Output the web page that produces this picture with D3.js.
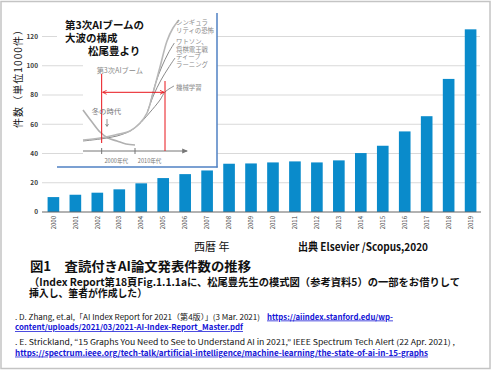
<!DOCTYPE html>
<html>
<head>
<meta charset="utf-8">
<script src="https://cdn.jsdelivr.net/npm/d3@7"></script>
<style>
  body { margin:0; background:#fff; }
  svg { display:block; }
  text { font-family: "Noto Sans CJK JP", "Liberation Sans", sans-serif; }
</style>
</head>
<body>
<svg class="chart"></svg>
<script>
// bar data (thousands of papers)
var years = ["2000","2001","2002","2003","2004","2005","2006","2007","2008","2009",
             "2010","2011","2012","2013","2014","2015","2016","2017","2018","2019"];
var papers = [10.2, 11.8, 13.2, 15.5, 19.6, 23.2, 25.9, 28.4, 33.0, 33.2,
              33.9, 34.6, 33.9, 35.3, 40.3, 45.3, 55.1, 65.5, 91.0, 124.9];
var yTicks = [0, 20, 40, 60, 80, 100, 120];

// inset (Matsuo's diagram): [year, level]
var singularity = [[1994.4,11],[1999.5,13],[2004,16],[2008.5,20],[2011.5,28],[2013.6,38],
                   [2015.4,58],[2017.5,84],[2019.6,110],[2021.4,123],[2023.2,131]];
var watson = [[2014.6,48],[2016.2,68],[2018,84],[2020,98],[2021.8,108]];
var deepLearning = [[2013.8,40],[2015.6,56],[2017.8,71],[2020,83],[2022,93]];
var machineLearning = [[1994.4,10],[1999.5,12],[2004.6,15],[2008.5,20],[2011,26],
                       [2014.3,38],[2017.5,51],[2019,59],[2021.7,65]];
var winter = [[1994.4,41],[1997.1,29],[1999.5,19],[2001.9,13],[2004.6,10],[2007.3,7],[2010,6]];
var insetLabels = [
  {t:["シンギュラ", "リティの恐怖"], yr:2022.3, lv:126},
  {t:["ワトソン、", "将棋電王戦"], yr:2022.3, lv:107},
  {t:["ディープ", "ラーニング"], yr:2022.3, lv:92},
  {t:["機械学習"], yr:2022.3, lv:61}
];
var decades = [{yr:2000, t:"2000年代"}, {yr:2010, t:"2010年代"}];
var boomSpan = [2000, 2019];

var svg = d3.select(".chart").attr("width", 492).attr("height", 370);

// slide frame
svg.append("rect")
  .attr("x", 1).attr("y", 1.5).attr("width", 489).attr("height", 367)
  .attr("fill", "#fff").attr("stroke", "#c4c4c4").attr("stroke-width", 1.5);

var x = d3.scaleBand().domain(years).range([41, 483])
  .paddingInner(0.47).paddingOuter(0.3);
var y = d3.scaleLinear().domain([0, 120]).range([212, 36.5]);

// gridlines
svg.append("g").selectAll("line").data(yTicks.slice(1)).enter().append("line")
  .attr("x1", 42).attr("x2", 480)
  .attr("y1", function(d){ return y(d); }).attr("y2", function(d){ return y(d); })
  .attr("stroke", "#d9d9d9").attr("stroke-width", 1);

// y tick labels
svg.append("g").selectAll("text").data(yTicks).enter().append("text")
  .attr("x", 38).attr("y", function(d){ return y(d); })
  .attr("dy", "0.35em").attr("text-anchor", "end")
  .attr("font-family", "Liberation Sans").attr("font-weight", "bold")
  .attr("font-size", "6.5px").attr("fill", "#404040")
  .text(function(d){ return d; });

// bars
svg.append("g").selectAll("rect").data(papers).enter().append("rect")
  .attr("x", function(d,i){ return x(years[i]); })
  .attr("width", x.bandwidth())
  .attr("y", function(d){ return y(d); })
  .attr("height", function(d){ return y(0) - y(d); })
  .attr("fill", "#0a8bcb");

// baseline
svg.append("line")
  .attr("x1", 42).attr("x2", 481).attr("y1", y(0)).attr("y2", y(0))
  .attr("stroke", "#666").attr("stroke-width", 1.2);

// year labels
svg.append("g").selectAll("text").data(years).enter().append("text")
  .attr("transform", function(d){
    return "translate(" + (x(d) + x.bandwidth()/2 + 2.2) + ",216) rotate(-90)";
  })
  .attr("text-anchor", "end")
  .attr("font-family", "Liberation Sans").attr("font-size", "6px").attr("fill", "#404040")
  .text(function(d){ return d; });

// axis titles
svg.append("text")
  .attr("transform", "translate(21.8,128) rotate(-90)")
  .attr("font-size", "10px").attr("fill", "#111")
  .attr("textLength", 103).attr("lengthAdjust", "spacing")
  .text("件数（単位1000件）");

svg.append("text")
  .attr("x", 194).attr("y", 251)
  .attr("font-size", "11px").attr("fill", "#111")
  .text("西暦 年");

svg.append("text")
  .attr("x", 298).attr("y", 250.5)
  .attr("font-size", "11px").attr("font-weight", "bold").attr("fill", "#111")
  .attr("textLength", 130).attr("lengthAdjust", "spacingAndGlyphs")
  .text("出典 Elsevier /Scopus,2020");

// ---- inset ----
var inset = svg.append("g");
inset.append("rect").attr("x", 83).attr("y", 13).attr("width", 134).attr("height", 154).attr("fill", "#fff");
inset.append("rect").attr("x", 57).attr("y", 13).attr("width", 95).attr("height", 42).attr("fill", "#fff");
inset.append("line").attr("x1", 217).attr("x2", 217).attr("y1", 13).attr("y2", 167.5)
  .attr("stroke", "#4f81c3").attr("stroke-width", 1.5);
inset.append("line").attr("x1", 57).attr("x2", 217.7).attr("y1", 167).attr("y2", 167)
  .attr("stroke", "#4f81c3").attr("stroke-width", 1.5);

var ix = d3.scaleLinear().domain([1994.4, 2025.6]).range([83, 187]);
var iy = d3.scaleLinear().domain([0, 136]).range([151, 15]);

var defs = svg.append("defs");
defs.append("marker").attr("id", "redHead").attr("viewBox", "0 0 10 10")
  .attr("refX", 9).attr("refY", 5).attr("markerWidth", 5).attr("markerHeight", 5)
  .attr("orient", "auto-start-reverse")
  .append("path").attr("d", "M1,1L9,5L1,9").attr("fill", "none")
  .attr("stroke", "#e8141b").attr("stroke-width", 1.6);
defs.append("marker").attr("id", "grayHead").attr("viewBox", "0 0 10 10")
  .attr("refX", 8).attr("refY", 5).attr("markerWidth", 6).attr("markerHeight", 6)
  .attr("orient", "auto")
  .append("path").attr("d", "M0,1L10,5L0,9Z").attr("fill", "#777");

var curve = d3.line()
  .x(function(d){ return ix(d[0]); })
  .y(function(d){ return iy(d[1]); })
  .curve(d3.curveCatmullRom);

inset.append("g").selectAll("path")
  .data([winter, machineLearning, deepLearning, watson, singularity]).enter()
  .append("path")
  .attr("d", curve)
  .attr("fill", "none")
  .attr("stroke", function(d,i){ return ["#b0b0b0","#8a8a8a","#8a8a8a","#8a8a8a","#b8b8b8"][i]; })
  .attr("stroke-width", function(d,i){ return i == 0 || i == 4 ? 1.6 : 1; });

// time axis
inset.append("line")
  .attr("x1", ix(1994.4)).attr("x2", ix(2025.6)).attr("y1", iy(0)).attr("y2", iy(0))
  .attr("stroke", "#777").attr("stroke-width", 1).attr("marker-end", "url(#grayHead)");
inset.append("g").selectAll("line").data(decades).enter().append("line")
  .attr("x1", function(d){ return ix(d.yr); }).attr("x2", function(d){ return ix(d.yr); })
  .attr("y1", iy(-3)).attr("y2", iy(3))
  .attr("stroke", "#777").attr("stroke-width", 1);
inset.append("g").selectAll("text").data(decades).enter().append("text")
  .attr("x", function(d){ return ix(d.yr + 4.4); }).attr("y", iy(-12))
  .attr("text-anchor", "middle").attr("font-size", "5.6px").attr("fill", "#777")
  .text(function(d){ return d.t; });

// red markers
inset.append("line")
  .attr("x1", ix(boomSpan[0])).attr("x2", ix(boomSpan[0])).attr("y1", iy(77)).attr("y2", iy(8))
  .attr("stroke", "#e8141b").attr("stroke-width", 1);
inset.append("line")
  .attr("x1", ix(boomSpan[1])).attr("x2", ix(boomSpan[1])).attr("y1", iy(70)).attr("y2", iy(0))
  .attr("stroke", "#e8141b").attr("stroke-width", 1);
inset.append("line")
  .attr("x1", ix(boomSpan[0]) + 1).attr("x2", ix(boomSpan[1]) - 1)
  .attr("y1", iy(58.7)).attr("y2", iy(58.7))
  .attr("stroke", "#e8141b").attr("stroke-width", 1)
  .attr("marker-start", "url(#redHead)").attr("marker-end", "url(#redHead)");

// gray labels (two-line ones as tspans)
var lab = inset.append("g").selectAll("text").data(insetLabels).enter().append("text")
  .attr("x", function(d){ return ix(d.yr); }).attr("y", function(d){ return iy(d.lv); })
  .attr("font-size", "6.4px").attr("fill", "#8a8a8a");
lab.selectAll("tspan").data(function(d){ return d.t.map(function(s){ return {s:s, x:ix(d.yr)}; }); })
  .enter().append("tspan")
  .attr("x", function(d){ return d.x; })
  .attr("dy", function(d,i){ return i == 0 ? 0 : 8.2; })
  .text(function(d){ return d.s; });

inset.append("text")
  .attr("x", ix(1998.5)).attr("y", iy(78.5))
  .attr("font-size", "7.2px").attr("fill", "#8a8a8a")
  .text("第3次AIブーム");
inset.append("text")
  .attr("x", ix(1997)).attr("y", iy(37.5))
  .attr("font-size", "7.4px").attr("fill", "#777")
  .text("冬の時代");
inset.append("line")
  .attr("x1", ix(2001.6)).attr("x2", ix(2001.6)).attr("y1", iy(32)).attr("y2", iy(25))
  .attr("stroke", "#777").attr("stroke-width", 0.8);
inset.append("path")
  .attr("d", "M" + (ix(2001.6) - 1.5) + "," + iy(27) + "L" + ix(2001.6) + "," + iy(24.5) +
             "L" + (ix(2001.6) + 1.5) + "," + iy(27))
  .attr("fill", "none").attr("stroke", "#777").attr("stroke-width", 0.8);

// inset title
var insetTitle = ["第3次AIブームの", "大波の構成", "松尾豊より"];
inset.append("g").selectAll("text").data(insetTitle).enter().append("text")
  .attr("x", function(d,i){ return i == 2 ? 88 : 65; })
  .attr("y", function(d,i){ return [28.5, 42, 55][i]; })
  .attr("font-size", "10.5px").attr("font-weight", "bold").attr("fill", "#111")
  .text(function(d){ return d; });

// ---- caption ----
svg.append("text")
  .attr("x", 30).attr("y", 271)
  .attr("font-size", "13px").attr("font-weight", "bold").attr("fill", "#111")
  .attr("textLength", 221).attr("lengthAdjust", "spacingAndGlyphs")
  .text("図1　査読付きAI論文発表件数の推移");

var note = [
  {t:"（Index Report第18頁Fig.1.1.1aに、松尾豊先生の模式図（参考資料5）の一部をお借りして", w:431},
  {t:"挿入し、筆者が作成した）", w:118}
];
svg.append("text")
  .attr("x", 29).attr("y", 285.7)
  .attr("font-size", "10.5px").attr("font-weight", "bold").attr("fill", "#111")
  .selectAll("tspan").data(note).enter().append("tspan")
  .attr("x", 29)
  .attr("dy", function(d,i){ return i == 0 ? 0 : 11.5; })
  .attr("textLength", function(d){ return d.w; }).attr("lengthAdjust", "spacingAndGlyphs")
  .text(function(d){ return d.t; });

// references
var refs = [
  {t:". D. Zhang, et.al,「AI Index Report for 2021（第4版）」(3 Mar. 2021)", x:15, y:319.5, w:245, link:false},
  {t:"https://aiindex.stanford.edu/wp-", x:267, y:319.5, w:126, link:true},
  {t:"content/uploads/2021/03/2021-AI-Index-Report_Master.pdf", x:15, y:330.2, w:228, link:true},
  {t:". E. Strickland, “15 Graphs You Need to See to Understand AI in 2021,” IEEE Spectrum Tech Alert (22 Apr. 2021) ,", x:15, y:344.8, w:440, link:false},
  {t:"https://spectrum.ieee.org/tech-talk/artificial-intelligence/machine-learning/the-state-of-ai-in-15-graphs", x:15, y:355.6, w:413, link:true}
];
svg.append("g").selectAll("text").data(refs).enter().append("text")
  .attr("x", function(d){ return d.x; }).attr("y", function(d){ return d.y; })
  .attr("font-family", "Lato, 'Noto Sans CJK JP'")
  .attr("font-size", "7.6px")
  .attr("fill", function(d){ return d.link ? "#1414d6" : "#111"; })
  .attr("text-decoration", function(d){ return d.link ? "underline" : null; })
  .attr("font-weight", function(d){ return d.link ? "bold" : null; })
  .attr("textLength", function(d){ return d.w; }).attr("lengthAdjust", "spacingAndGlyphs")
  .text(function(d){ return d.t; });
</script>
</body>
</html>
